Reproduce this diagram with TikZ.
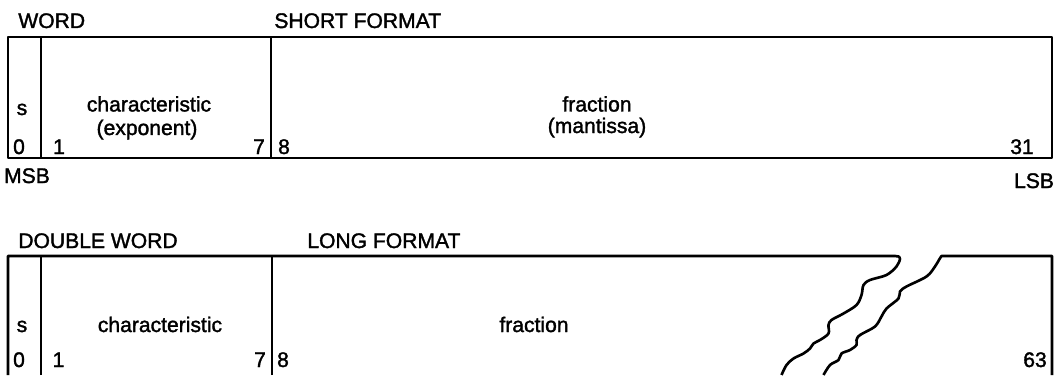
\documentclass[tikz,border=0pt]{standalone}
\usepackage{fontspec}
\setmainfont{Liberation Sans}
\newfontfamily\diagfont{Liberation Sans}[FakeBold=1.6]
\tikzset{
  brd/.style={line width=1.5pt, line join=round},
  lbl/.style={font=\diagfont\fontsize{12}{14}\selectfont, inner sep=0pt, anchor=base},
  hdr/.style={lbl, anchor=base west}
}
\begin{document}
\begin{tikzpicture}
  \useasboundingbox (0,0) rectangle (21.08,7.5);
  % short format (one word)
  \draw[brd] (0.16,4.34) rectangle (21.04,6.76);
  \draw[brd] (0.82,4.34) -- (0.82,6.76);
  \draw[brd] (5.42,4.34) -- (5.42,6.76);
  \node[hdr] (word) at (0.36,6.94) {WORD};
  \node[hdr] (short) at (5.48,6.94) {SHORT FORMAT};
  \node[lbl] (s1) at (0.44,5.2) {s};
  \node[lbl] (char1) at (2.98,5.27) {characteristic};
  \node[lbl] (exp1) at (2.94,4.8) {(exponent)};
  \node[lbl] (frac1) at (11.94,5.27) {fraction};
  \node[lbl] (mant1) at (11.94,4.84) {(mantissa)};
  \node[lbl] (b0) at (0.38,4.42) {0};
  \node[lbl] (b1) at (1.18,4.42) {1};
  \node[lbl] (b7) at (5.18,4.42) {7};
  \node[lbl] (b8) at (5.68,4.42) {8};
  \node[lbl] (b31) at (20.44,4.42) {31};
  \node[lbl] (msb) at (0.54,3.84) {MSB};
  \node[lbl] (lsb) at (20.68,3.74) {LSB};
  % long format (double word), cut by the break
  \draw[brd] (0.16,0) -- (0.16,2.38) -- (17.9,2.38) -- plot[smooth,tension=0.55] coordinates {
    (17.97,2.37) (18.0,2.32) (17.93,2.17) (17.73,2.0) (17.4,1.9) (17.27,1.8)
    (17.23,1.6) (17.13,1.4) (16.87,1.23) (16.63,1.1) (16.57,1.0) (16.57,0.83)
    (16.4,0.7) (16.27,0.63) (16.2,0.53) (16.07,0.43) (15.87,0.33) (15.73,0.2) (15.63,0)};
  \draw[brd] (21.04,0) -- (21.04,2.38) -- (18.9,2.38) -- plot[smooth,tension=0.55] coordinates {
    (18.83,2.38) (18.79,2.32) (18.7,2.17) (18.53,1.97) (18.13,1.77) (18.0,1.67)
    (17.97,1.53) (17.73,1.33) (17.63,1.17) (17.5,0.97) (17.2,0.8) (17.13,0.7)
    (17.13,0.6) (17.0,0.5) (16.83,0.43) (16.77,0.3) (16.6,0.2) (16.47,0)};
  \draw[brd] (0.82,0) -- (0.82,2.38);
  \draw[brd] (5.44,0) -- (5.44,2.38);
  \node[hdr] (dword) at (0.36,2.54) {DOUBLE WORD};
  \node[hdr] (long) at (6.14,2.54) {LONG FORMAT};
  \node[lbl] (s2) at (0.44,0.86) {s};
  \node[lbl] (char2) at (3.2,0.86) {characteristic};
  \node[lbl] (frac2) at (10.68,0.86) {fraction};
  \node[lbl] (c0) at (0.38,0.16) {0};
  \node[lbl] (c1) at (1.17,0.16) {1};
  \node[lbl] (c7) at (5.2,0.16) {7};
  \node[lbl] (c8) at (5.66,0.16) {8};
  \node[lbl] (c63) at (20.7,0.16) {63};
\end{tikzpicture}
\end{document}
